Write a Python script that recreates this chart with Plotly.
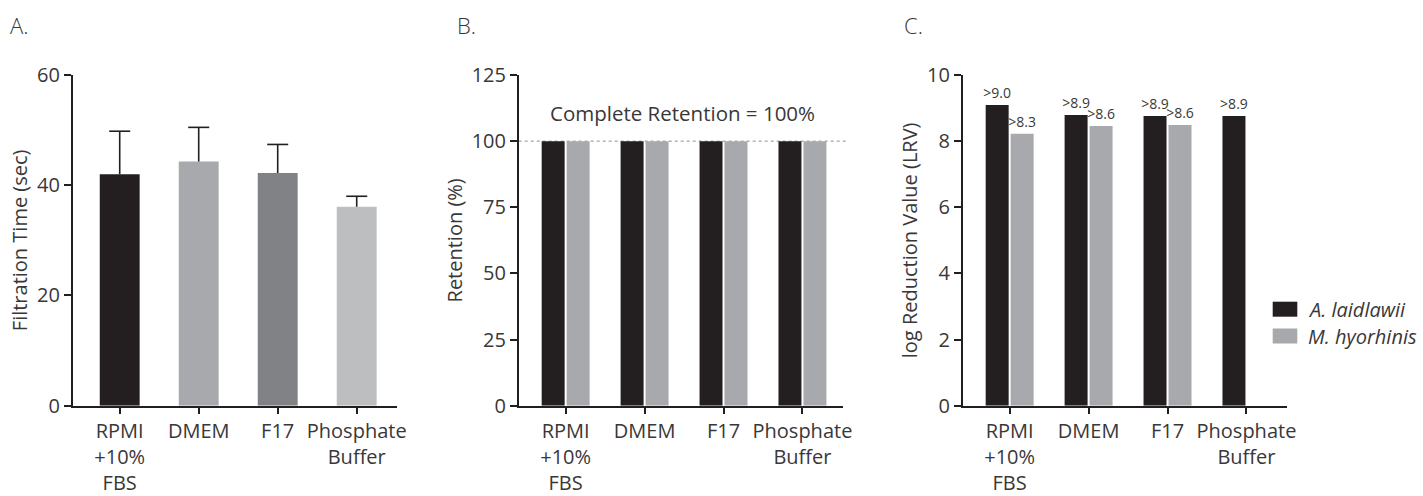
import plotly.graph_objects as go

# ---------------- data ----------------
categories = ["RPMI +10% FBS", "DMEM", "F17", "Phosphate Buffer"]
tick_labels = ["RPMI<br>+10%<br>FBS", "DMEM", "F17", "Phosphate<br>Buffer"]

# Panel A: filtration time (sec), mean + upper SD
filtration_time = [42.0, 44.3, 42.2, 36.1]
filtration_err = [7.8, 6.2, 5.2, 1.9]
filtration_colors = ["#231f20", "#a7a9ac", "#808285", "#bcbec0"]

# Panel B: retention (%)
series_names = ["A. laidlawii", "M. hyorhinis"]
retention_laidlawii = [100, 100, 100, 100]
retention_hyorhinis = [100, 100, 100, 100]
complete_retention = 100

# Panel C: log reduction value
lrv_laidlawii = [9.09, 8.79, 8.76, 8.76]
lrv_hyorhinis = [8.22, 8.46, 8.49, None]
lrv_laidlawii_text = [">9.0", ">8.9", ">8.9", ">8.9"]
lrv_hyorhinis_text = [">8.3", ">8.6", ">8.6", ""]

series_colors = ["#231f20", "#a7a9ac"]

# ---------------- layout helpers ----------------
W, H = 1423, 496
FONT = "Open Sans"
FW = 400
TXT = "#3a3738"
AX = "#231f20"


def px_x(p):
    return p / W


def px_y(p):
    return 1 - p / H


ydom = [px_y(405.7), px_y(75)]
doms = [[px_x(72.7), px_x(397)], [px_x(518.7), px_x(842.7)], [px_x(962.7), px_x(1286.7)]]
xrange_ = [-0.595, 3.51]

fig = go.Figure()

# Panel A: bars with error stems (caps drawn as separate markers on the upper end only)
fig.add_trace(go.Bar(
    x=categories, y=filtration_time, width=0.505,
    marker=dict(color=filtration_colors, line=dict(width=0)),
    error_y=dict(type="data", array=filtration_err, arrayminus=[0] * len(filtration_err),
                 symmetric=False, color=AX, thickness=1.6, width=0),
    xaxis="x", yaxis="y", showlegend=False,
))
fig.add_trace(go.Scatter(
    x=categories, y=[v + e for v, e in zip(filtration_time, filtration_err)],
    mode="markers", marker=dict(symbol="line-ew", size=15, line=dict(color=AX, width=1.6)),
    xaxis="x", yaxis="y", showlegend=False, hoverinfo="skip", cliponaxis=False,
))

# Panel B
fig.add_trace(go.Bar(x=categories, y=retention_laidlawii, name=series_names[0],
                     marker=dict(color=series_colors[0], line=dict(width=0)),
                     xaxis="x2", yaxis="y2", showlegend=False, offsetgroup="a"))
fig.add_trace(go.Bar(x=categories, y=retention_hyorhinis, name=series_names[1],
                     marker=dict(color=series_colors[1], line=dict(width=0)),
                     xaxis="x2", yaxis="y2", showlegend=False, offsetgroup="b"))

# Panel C
label_font = dict(family=FONT, size=14, color=TXT, weight=FW)
fig.add_trace(go.Bar(x=categories, y=lrv_laidlawii, name=series_names[0],
                     marker=dict(color=series_colors[0], line=dict(width=0)),
                     text=lrv_laidlawii_text, textposition="outside", cliponaxis=False,
                     constraintext="none", textfont=label_font,
                     xaxis="x3", yaxis="y3", showlegend=False, offsetgroup="a"))
fig.add_trace(go.Bar(x=categories, y=lrv_hyorhinis, name=series_names[1],
                     marker=dict(color=series_colors[1], line=dict(width=0)),
                     text=lrv_hyorhinis_text, textposition="outside", cliponaxis=False,
                     constraintext="none", textfont=label_font,
                     xaxis="x3", yaxis="y3", showlegend=False, offsetgroup="b"))

common_x = dict(
    type="category", categoryorder="array", categoryarray=categories,
    tickvals=categories, ticktext=tick_labels, range=xrange_,
    showline=True, linecolor=AX, linewidth=1.5, ticks="outside", ticklen=7,
    tickcolor=AX, tickwidth=1.5, showgrid=False, zeroline=False, automargin=False,
    tickfont=dict(family=FONT, size=20, color=TXT, weight=FW), fixedrange=True,
)
common_y = dict(
    showline=True, linecolor=AX, linewidth=1.5, ticks="outside", ticklen=7,
    tickcolor=AX, tickwidth=1.5, showgrid=False, zeroline=False, automargin=False,
    tickfont=dict(family=FONT, size=20, color=TXT, weight=FW), domain=ydom,
    title_font=dict(family=FONT, size=20, color=TXT, weight=FW), title_standoff=4,
    fixedrange=True,
)

layout = dict(
    width=W, height=H, margin=dict(l=0, r=0, t=0, b=0, autoexpand=False),
    paper_bgcolor="white", plot_bgcolor="white",
    barmode="group", bargap=0.367, bargroupgap=0.08,
    font=dict(family=FONT, color=TXT, weight=FW),
    showlegend=False,
)
for i in range(3):
    sx = "" if i == 0 else str(i + 1)
    layout["xaxis" + sx] = dict(common_x, domain=doms[i], anchor="y" + sx)
layout["yaxis"] = dict(common_y, anchor="x", range=[0, 60], tickvals=[0, 20, 40, 60],
                       title_text="Filtration Time (sec)")
layout["yaxis2"] = dict(common_y, anchor="x2", range=[0, 125], tickvals=[0, 25, 50, 75, 100, 125],
                        title_text="Retention (%)")
layout["yaxis3"] = dict(common_y, anchor="x3", range=[0, 10], tickvals=[0, 2, 4, 6, 8, 10],
                        title_text="log Reduction Value (LRV)")
fig.update_layout(**layout)

# Complete retention reference line (panel B)
fig.add_shape(type="line", xref="x2 domain", yref="y2", x0=0, x1=1.01,
              y0=complete_retention, y1=complete_retention,
              line=dict(color="#8a8c8e", width=1, dash="dot"), layer="below")
fig.add_annotation(xref="x2 domain", yref="y2", x=0.505, y=110.7,
                   text="Complete Retention = 100%", showarrow=False,
                   font=dict(family=FONT, size=20.5, color=TXT, weight=FW),
                   xanchor="center", yanchor="middle")

# Panel letters
for letter, xp in zip(["A.", "B.", "C."], [8, 455, 902]):
    fig.add_annotation(xref="paper", yref="paper", x=px_x(xp), y=px_y(24.5), text=letter,
                       showarrow=False, xanchor="left", yanchor="middle",
                       font=dict(family=FONT, size=22, color=TXT, weight=300))

# Legend (drawn as swatches + labels)
legend_rows = [(301.7, 316.7), (328.5, 343.5)]
for name, col, (y0, y1) in zip(series_names, series_colors, legend_rows):
    fig.add_shape(type="rect", xref="paper", yref="paper",
                  x0=px_x(1272.7), x1=px_x(1297.3), y0=px_y(y1), y1=px_y(y0),
                  fillcolor=col, line=dict(width=0))
    fig.add_annotation(xref="paper", yref="paper", x=px_x(1306), y=px_y((y0 + y1) / 2),
                       text="<i>" + name + "</i>", showarrow=False, xanchor="left", yanchor="middle",
                       font=dict(family=FONT, size=20, color=TXT, weight=FW))

fig.write_html("out.html", config={"displayModeBar": False},
               post_script="document.body.style.margin='0';")
